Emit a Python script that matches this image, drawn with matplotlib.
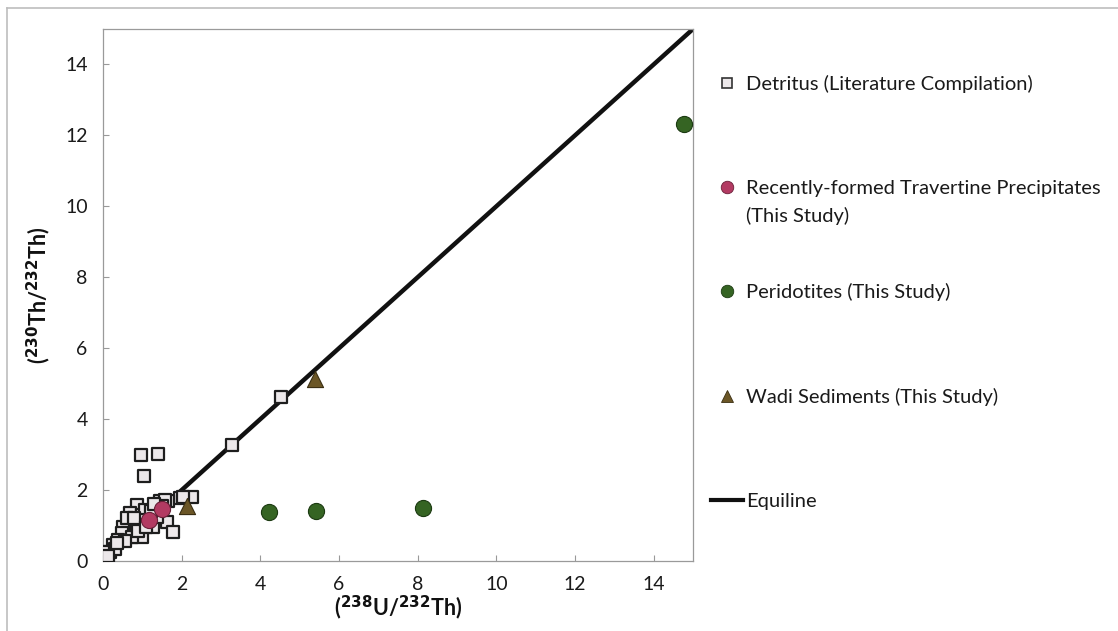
import matplotlib.pyplot as plt
from matplotlib.lines import Line2D

plt.rcParams['font.family'] = ['Lato', 'DejaVu Sans']

# Detritus, literature compilation (238U/232Th, 230Th/232Th)
detritus_x = [0.96, 1.41, 1.04, 3.27, 4.53, 1.96, 2.26, 2.04, 1.66, 1.45, 1.58,
              0.86, 0.69, 0.98, 1.07, 1.62, 1.79, 1.28, 0.94, 0.64, 0.77, 0.52,
              0.98, 0.69, 0.48, 0.39, 0.26, 0.18, 0.05, 0.05, 0.73, 1.37, 1.22,
              0.60, 0.85, 1.50, 0.30, 0.12, 0.80, 0.90, 0.55, 0.35, 1.10, 1.30]
detritus_y = [2.99, 3.01, 2.39, 3.27, 4.61, 1.79, 1.81, 1.81, 1.70, 1.70, 1.72,
              1.58, 1.34, 1.30, 1.44, 1.11, 0.83, 0.97, 1.15, 1.06, 0.87, 0.97,
              0.68, 0.68, 0.78, 0.59, 0.45, 0.26, 0.26, 0.03, 0.69, 1.25, 1.40,
              1.20, 1.02, 1.55, 0.35, 0.15, 1.20, 0.85, 0.55, 0.50, 0.95, 1.60]

# Recently-formed travertine precipitates
travertine_x = [1.16, 1.49]
travertine_y = [1.17, 1.46]

# Peridotites
peridotite_x = [4.21, 5.42, 8.14, 14.78]
peridotite_y = [1.39, 1.41, 1.49, 12.31]

# Wadi sediments
wadi_x = [2.13, 5.38]
wadi_y = [1.55, 5.13]

# Equiline end points
equiline = [0, 15]

ticks = [0, 2, 4, 6, 8, 10, 12, 14]

fig = plt.figure(figsize=(11.18, 6.31), dpi=100)
ax = fig.add_axes([103 / 1118, 1 - 561 / 631, 590 / 1118, 532 / 631])

ax.plot(equiline, equiline, color='#111111', lw=3.2, zorder=2, solid_capstyle='butt')
ax.scatter(detritus_x, detritus_y, marker='s', s=75, facecolor='#ece8ea',
           edgecolor='#1e1e1e', linewidths=1.6, zorder=3)
ax.scatter(travertine_x, travertine_y, marker='o', s=135, facecolor='#b23a62',
           edgecolor='#6a2038', linewidths=0.8, zorder=4)
ax.scatter(peridotite_x, peridotite_y, marker='o', s=135, facecolor='#356423',
           edgecolor='#1c3a12', linewidths=0.8, zorder=4)
ax.scatter(wadi_x, wadi_y, marker='^', s=135, facecolor='#6b5626',
           edgecolor='#3a2e12', linewidths=0.8, zorder=4)

ax.set_xlim(0, 15)
ax.set_ylim(0, 15)
ax.set_xticks(ticks)
ax.set_yticks(ticks)
ax.tick_params(direction='in', length=4, width=0.8, color='#999999',
               labelsize=14, labelcolor='#1a1a1a', pad=11)
for side in ax.spines.values():
    side.set_color('#9a9a9a')
    side.set_linewidth(0.9)

ax.set_xlabel(r'($^{\mathbf{238}}$U/$^{\mathbf{232}}$Th)', fontsize=15.5,
              fontweight='bold', color='#111111', labelpad=0)
ax.set_ylabel(r'($^{\mathbf{230}}$Th/$^{\mathbf{232}}$Th)', fontsize=15.5,
              fontweight='bold', color='#111111', labelpad=9)

handles = [
    Line2D([], [], ls='none', marker='s', ms=7, mfc='#ece8ea', mec='#333333', mew=1.2),
    Line2D([], [], ls='none', marker='o', ms=9, mfc='#b23a62', mec='#6a2038', mew=0.6),
    Line2D([], [], ls='none', marker='o', ms=9, mfc='#356423', mec='#1c3a12', mew=0.6),
    Line2D([], [], ls='none', marker='^', ms=9, mfc='#6b5626', mec='#3a2e12', mew=0.6),
    Line2D([], [], color='#111111', lw=3),
]
labels = [
    'Detritus (Literature Compilation)',
    'Recently-formed Travertine Precipitates',
    'Peridotites (This Study)',
    'Wadi Sediments (This Study)',
    'Equiline',
]
leg = fig.legend(handles, labels, loc='upper left',
                 bbox_to_anchor=(711 / 1118, 1 - 75 / 631), frameon=False,
                 fontsize=14.5, labelspacing=4.3, handlelength=1.6,
                 handletextpad=0.15, borderaxespad=0, borderpad=0)
for t in leg.get_texts():
    t.set_color('#1a1a1a')

# second line of the travertine entry, hanging under its legend text
fig.canvas.draw()
bb = leg.get_texts()[1].get_window_extent().transformed(fig.transFigure.inverted())
fig.text(bb.x0, bb.y0 - 28 / 631, '(This Study)', fontsize=14.5,
         color='#1a1a1a', ha='left', va='bottom')

# chart area border
fig.add_artist(Line2D([7 / 1118, 1], [1 - 8 / 631, 1 - 8 / 631],
                      color='#bdbdbd', lw=1.2))
fig.add_artist(Line2D([7 / 1118, 7 / 1118], [0, 1 - 8 / 631],
                      color='#bdbdbd', lw=1.2))

fig.savefig('out.png', dpi=100)
